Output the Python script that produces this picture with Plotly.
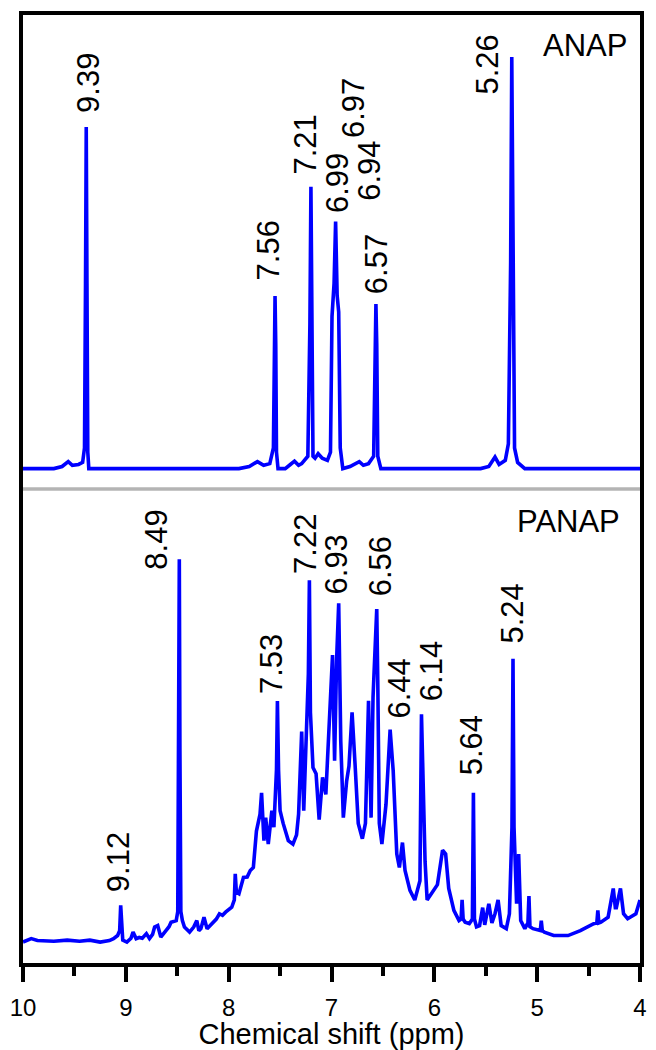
import plotly.graph_objects as go

# ---------------- data ----------------
# ANAP spectrum (top panel): chemical shift (ppm) and relative intensity
anap_ppm = [10.00, 9.70, 9.62, 9.56, 9.52, 9.46, 9.42, 9.402, 9.392, 9.385, 9.378, 9.37, 9.36, 9.30,
            7.90, 7.80, 7.72, 7.66, 7.60, 7.565, 7.556, 7.549, 7.542, 7.535, 7.52,
            7.45, 7.40, 7.36, 7.32, 7.29, 7.23, 7.21, 7.20, 7.19, 7.18, 7.16, 7.13, 7.09, 7.04, 7.01,
            6.995, 6.975, 6.96, 6.945, 6.93, 6.915, 6.89, 6.82, 6.77, 6.73, 6.69, 6.64, 6.59,
            6.576, 6.568, 6.56, 6.55, 6.52, 5.55, 5.47, 5.41, 5.37, 5.31, 5.28, 5.258, 5.247,
            5.237, 5.22, 5.19, 5.12, 4.00]
anap_int = [0.0, 0.0, 0.005, 0.017, 0.008, 0.01, 0.015, 0.05, 0.45, 0.83, 0.45, 0.04, 0.0, 0.0,
            0.0, 0.005, 0.017, 0.008, 0.012, 0.05, 0.3, 0.419, 0.3, 0.04, 0.0,
            0.0, 0.01, 0.018, 0.008, 0.012, 0.03, 0.35, 0.685, 0.35, 0.03, 0.025, 0.036, 0.025, 0.02, 0.04,
            0.37, 0.45, 0.60, 0.42, 0.38, 0.05, 0.0, 0.005, 0.012, 0.017, 0.008, 0.012, 0.03,
            0.3, 0.40, 0.3, 0.03, 0.0, 0.0, 0.005, 0.028, 0.01, 0.02, 0.06, 0.5, 1.0,
            0.5, 0.05, 0.015, 0.0, 0.0]

# PANAP spectrum (bottom panel)
panap_ppm = [10.00, 9.96, 9.92, 9.86, 9.80, 9.70, 9.57, 9.45, 9.35, 9.25, 9.16, 9.12, 9.08, 9.06, 9.05,
             9.04, 9.03, 8.99, 8.95, 8.93, 8.90, 8.87, 8.84, 8.80, 8.77, 8.74, 8.72, 8.69, 8.66, 8.61,
             8.58, 8.56, 8.51, 8.495, 8.486, 8.48, 8.474, 8.465, 8.45, 8.43, 8.38, 8.34, 8.31, 8.29,
             8.27, 8.24, 8.21, 8.16, 8.12, 8.09, 8.06, 8.03, 7.97, 7.945, 7.936, 7.925, 7.90, 7.856,
             7.82, 7.79, 7.76, 7.73, 7.695, 7.68, 7.657, 7.64, 7.615, 7.58, 7.56, 7.535, 7.526,
             7.515, 7.50, 7.47, 7.42, 7.375, 7.34, 7.32, 7.29, 7.27, 7.247, 7.225, 7.215, 7.205,
             7.18, 7.15, 7.12, 7.087, 7.055, 7.02, 6.99, 6.97, 6.95, 6.93, 6.91, 6.885, 6.853,
             6.83, 6.80, 6.77, 6.74, 6.70, 6.67, 6.64, 6.615, 6.596, 6.56, 6.55, 6.535, 6.51, 6.47,
             6.43, 6.40, 6.365, 6.34, 6.31, 6.285, 6.237, 6.19, 6.157, 6.14, 6.125, 6.11, 6.09,
             6.07, 6.02, 5.97, 5.92, 5.89, 5.86, 5.81, 5.76, 5.74, 5.73, 5.72, 5.70, 5.66, 5.63,
             5.62, 5.61, 5.59, 5.56, 5.53, 5.51, 5.47, 5.44, 5.41, 5.38, 5.35, 5.30, 5.27, 5.245,
             5.235, 5.225, 5.20, 5.18, 5.16, 5.12, 5.09, 5.08, 5.07, 5.04, 4.97, 4.96, 4.95, 4.93,
             4.84, 4.70, 4.58, 4.45, 4.42, 4.41, 4.40, 4.38, 4.31, 4.26, 4.24, 4.23, 4.19, 4.16,
             4.12, 4.04, 4.00]
panap_int = [0.0, 0.004, 0.009, 0.004, 0.004, 0.002, 0.005, 0.002, 0.005, 0.0, 0.004, 0.009, 0.017, 0.03, 0.096,
             0.02, 0.005, 0.0, 0.01, 0.026, 0.009, 0.012, 0.01, 0.022, 0.009, 0.02, 0.039, 0.043, 0.013, 0.030,
             0.04, 0.052, 0.056, 0.08, 0.5, 1.0, 0.5, 0.08, 0.056, 0.039, 0.026, 0.039, 0.056, 0.03,
             0.035, 0.065, 0.035, 0.048, 0.06, 0.074, 0.07, 0.078, 0.091, 0.11, 0.178, 0.13, 0.126, 0.169,
             0.17, 0.187, 0.195, 0.29, 0.334, 0.39, 0.265, 0.325, 0.256, 0.343, 0.30, 0.45, 0.63,
             0.45, 0.343, 0.31, 0.265, 0.256, 0.28, 0.334, 0.55, 0.343, 0.51, 0.7, 0.945, 0.6,
             0.456, 0.44, 0.32, 0.43, 0.386, 0.61, 0.75, 0.474, 0.74, 0.885, 0.525, 0.325, 0.42,
             0.46, 0.60, 0.46, 0.31, 0.27, 0.31, 0.63, 0.325, 0.64, 0.87, 0.68, 0.31, 0.256, 0.36,
             0.555, 0.447, 0.23, 0.195, 0.26, 0.187, 0.135, 0.11, 0.143, 0.16, 0.595, 0.45, 0.21,
             0.11, 0.13, 0.15, 0.24, 0.23, 0.14, 0.083, 0.056, 0.06, 0.11, 0.06, 0.052, 0.048, 0.06,
             0.39, 0.06, 0.04, 0.043, 0.09, 0.045, 0.10, 0.05, 0.074, 0.11, 0.043, 0.035, 0.074, 0.3,
             0.74, 0.3, 0.10, 0.23, 0.056, 0.035, 0.05, 0.12, 0.04, 0.035, 0.03, 0.056, 0.03, 0.026,
             0.017, 0.017, 0.03, 0.048, 0.05, 0.083, 0.05, 0.052, 0.065, 0.14, 0.09, 0.09, 0.14, 0.074,
             0.061, 0.074, 0.11]

# peak labels: text, label centre (ppm), label bottom (intensity)
anap_labels = ["9.39", "7.56", "7.21", "6.99", "6.97", "6.94", "6.57", "5.26"]
anap_label_x = [9.365, 7.615, 7.25, 6.942, 6.788, 6.625, 6.567, 5.481]
anap_label_y = [0.860, 0.453, 0.709, 0.617, 0.799, 0.646, 0.419, 0.903]

panap_labels = ["9.12", "8.49", "7.53", "7.22", "6.93", "6.56", "6.44", "6.14", "5.64", "5.24"]
panap_label_x = [9.077, 8.702, 7.577, 7.26, 6.952, 6.529, 6.337, 6.029, 5.635, 5.240]
panap_label_y = [0.125, 0.969, 0.643, 0.956, 0.904, 0.898, 0.578, 0.625, 0.430, 0.776]

sample_names = ["ANAP", "PANAP"]
x_ticks = [10, 9, 8, 7, 6, 5, 4]
x_title = "Chemical shift (ppm)"

# ---------------- figure ----------------
FONT = "Arial, 'Liberation Sans', sans-serif"
BLUE = "#0000FF"
LW = 3.6

fig = go.Figure()
fig.add_trace(go.Scatter(x=panap_ppm, y=panap_int, mode="lines",
                         line=dict(color=BLUE, width=LW), xaxis="x", yaxis="y",
                         showlegend=False, hoverinfo="skip"))
fig.add_trace(go.Scatter(x=anap_ppm, y=anap_int, mode="lines",
                         line=dict(color=BLUE, width=LW), xaxis="x2", yaxis="y2",
                         showlegend=False, hoverinfo="skip"))

annotations = []
for t, x, y in zip(anap_labels, anap_label_x, anap_label_y):
    annotations.append(dict(text=t, x=x, y=y, xref="x2", yref="y2", textangle=-90,
                            xanchor="center", yanchor="bottom", showarrow=False,
                            font=dict(family=FONT, size=31, color="black")))
for t, x, y in zip(panap_labels, panap_label_x, panap_label_y):
    annotations.append(dict(text=t, x=x, y=y, xref="x", yref="y", textangle=-90,
                            xanchor="center", yanchor="bottom", showarrow=False,
                            font=dict(family=FONT, size=31, color="black")))
annotations.append(dict(text=sample_names[0], x=4.106, y=1.029, xref="x2", yref="y2",
                        xanchor="right", yanchor="middle", showarrow=False,
                        font=dict(family=FONT, size=31, color="black")))
annotations.append(dict(text=sample_names[1], x=4.173, y=1.099, xref="x", yref="y",
                        xanchor="right", yanchor="middle", showarrow=False,
                        font=dict(family=FONT, size=31, color="black")))

axis_common = dict(showgrid=False, zeroline=False, linecolor="black", linewidth=3.5)

fig.update_layout(
    width=656, height=1050,
    margin=dict(l=23, r=9, t=15, b=84, pad=0),
    paper_bgcolor="white", plot_bgcolor="white",
    font=dict(family=FONT, color="black"),
    xaxis=dict(**axis_common, range=[10, 4], showline=True, mirror=False,
               tickmode="array", tickvals=x_ticks, ticktext=[str(v) for v in x_ticks],
               ticks="outside", ticklen=15, tickwidth=3.5, tickcolor="black",
               ticklabelstandoff=5,
               minor=dict(dtick=0.5, tick0=4, ticks="outside", ticklen=9, tickwidth=3.5,
                          tickcolor="black", showgrid=False),
               tickfont=dict(family=FONT, size=24, color="black"),
               title=dict(text=x_title, font=dict(family=FONT, size=29, color="black"),
                          standoff=0),
               anchor="y"),
    yaxis=dict(**axis_common, domain=[0, 0.5], range=[-0.0547, 1.1836], showline=True,
               mirror=True, showticklabels=False, ticks="", anchor="x"),
    xaxis2=dict(**axis_common, matches="x", range=[10, 4], showline=True, side="top",
                mirror=False, showticklabels=False, ticks="", anchor="y2"),
    yaxis2=dict(**axis_common, domain=[0.5, 1], range=[-0.0496, 1.102], showline=True,
                mirror=True, showticklabels=False, ticks="", anchor="x2"),
    annotations=annotations,
    shapes=[dict(type="line", xref="paper", yref="paper", x0=0, x1=1, y0=0.5, y1=0.5,
                 line=dict(color="#b4b4b4", width=3.5), layer="above")],
)

fig.write_html("out.html")
